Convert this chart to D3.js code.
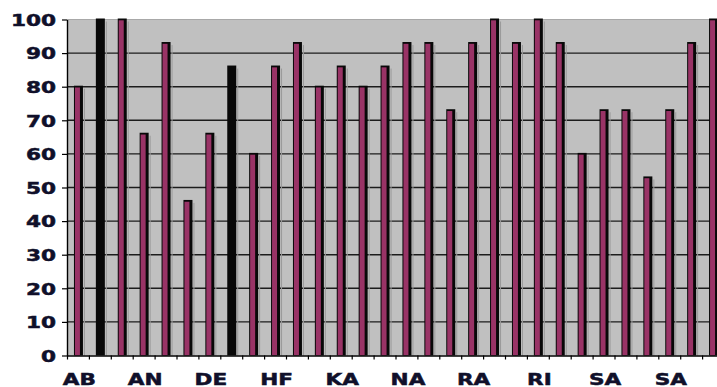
<!DOCTYPE html>
<html>
<head>
<meta charset="utf-8">
<script src="https://cdn.jsdelivr.net/npm/d3@7"></script>
<style>
  html, body { margin: 0; padding: 0; background: #fff; overflow: hidden; }
  svg { display: block; }
  .axis text { font-family: "DejaVu Sans", sans-serif; font-weight: bold; font-size: 16px; fill: #10102a; stroke: #10102a; stroke-width: 0.5px; }
</style>
</head>
<body>
<svg id="chart" width="717" height="387"></svg>
<script>
// Scores per entry (30 columns), shown against a 0–100 scale
const values = [80, 100, 100, 66, 93, 46, 66, 86, 60, 86,
                93, 80, 86, 80, 86, 93, 93, 73, 93, 100,
                93, 100, 93, 60, 73, 73, 53, 73, 93, 100];
// Category labels printed under every third column
const tickLabels = ["AB", "AN", "DE", "HF", "KA", "NA", "RA", "RI", "SA", "SA"];
const labelEvery = 3;
// Value axis ticks
const yTicks = [0, 10, 20, 30, 40, 50, 60, 70, 80, 90, 100];
// Columns rendered as solid dark bars
const darkColumns = new Set([1, 7]);

const svg = d3.select("#chart");
const plotLeft = 67, plotRight = 724, plotTop = 19.5, plotBottom = 355.5;

const x = d3.scaleBand().domain(d3.range(values.length)).range([plotLeft, plotRight]).padding(0);
const xEdge = d3.scaleLinear().domain([0, values.length]).range([plotLeft, plotRight]);
const y = d3.scaleLinear().domain([0, 100]).range([plotBottom, plotTop]);

// Plot wall
svg.append("rect")
  .attr("x", plotLeft).attr("y", plotTop)
  .attr("width", plotRight - plotLeft).attr("height", plotBottom - plotTop)
  .attr("fill", "#c0c0c0");
svg.append("line")
  .attr("x1", plotLeft).attr("x2", plotRight).attr("y1", plotTop).attr("y2", plotTop)
  .attr("stroke", "#a8a8a8").attr("stroke-width", 1.2);

// Horizontal gridlines
svg.append("g").selectAll("line")
  .data(yTicks.filter(t => t > 0 && t < 100))
  .join("line")
  .attr("x1", plotLeft).attr("x2", plotRight)
  .attr("y1", d => y(d)).attr("y2", d => y(d))
  .attr("stroke", "#1c1c1c").attr("stroke-width", 1.4);

// Columns
const bars = svg.append("g");
const cols = bars.selectAll("g").data(values).join("g")
  .attr("transform", (d, i) => `translate(${x(i) + x.bandwidth() / 2},0)`);

// light edge to the right of each column
cols.append("line")
  .attr("x1", 6.5).attr("x2", 6.5)
  .attr("y1", d => y(d) + 2).attr("y2", plotBottom)
  .attr("stroke", "#9a9a9a").attr("stroke-width", 1);

// dark body / side of each column
cols.append("rect")
  .attr("x", -4).attr("width", 9)
  .attr("y", d => y(d) - 1)
  .attr("height", d => plotBottom - y(d) + 1)
  .attr("fill", "#080808");

// coloured face
cols.filter((d, i) => !darkColumns.has(i)).append("rect")
  .attr("x", -3).attr("width", 5)
  .attr("y", d => y(d) + 0.8)
  .attr("height", d => plotBottom - y(d) - 0.8)
  .attr("fill", "#993366");

// Y axis
const yAxis = svg.append("g").attr("class", "axis")
  .attr("transform", `translate(${plotLeft},0)`)
  .call(d3.axisLeft(y).tickValues(yTicks).tickSize(5).tickSizeOuter(0));
yAxis.select(".domain").attr("stroke", "#000").attr("stroke-width", 1.4);
yAxis.selectAll(".tick line").attr("stroke", "#000").attr("stroke-width", 1.2);
yAxis.selectAll(".tick text")
  .attr("x", 0).attr("dy", null)
  .attr("dominant-baseline", "central")
  .attr("transform", "translate(-11,0) scale(1.35,1)");

// X axis: tick marks at column boundaries
const xTickAxis = svg.append("g")
  .attr("transform", `translate(0,${plotBottom})`)
  .call(d3.axisBottom(xEdge).tickValues(d3.range(values.length + 1)).tickSize(4).tickSizeOuter(0).tickFormat(""));
xTickAxis.select(".domain").attr("stroke", "#000").attr("stroke-width", 1.4);
xTickAxis.selectAll(".tick line").attr("stroke", "#000").attr("stroke-width", 1.2);

// X axis labels under every third column
const xLabelAxis = svg.append("g").attr("class", "axis")
  .attr("transform", `translate(0,${plotBottom})`)
  .call(d3.axisBottom(x)
    .tickValues(d3.range(0, values.length, labelEvery))
    .tickSize(0)
    .tickFormat(i => tickLabels[i / labelEvery]));
xLabelAxis.select(".domain").remove();
xLabelAxis.selectAll(".tick text")
  .attr("y", 0).attr("dy", null)
  .attr("transform", "translate(1.5,29.5) scale(1.35,1)");
</script>
</body>
</html>
